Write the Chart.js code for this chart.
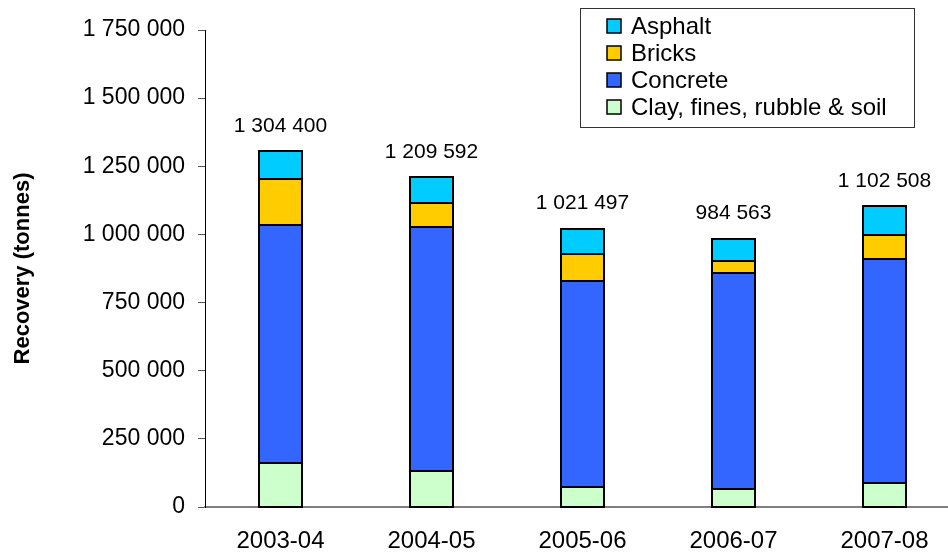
<!DOCTYPE html>
<html>
<head>
<meta charset="utf-8">
<script src="https://cdn.jsdelivr.net/npm/chart.js@4/dist/chart.umd.min.js"></script>
<style>
  html, body { margin: 0; padding: 0; background: #fff; overflow: hidden; }
  #wrap { width: 948px; height: 553px; overflow: hidden; }
</style>
</head>
<body>
<div id="wrap"><canvas id="chart" width="962" height="553"></canvas></div>
<script>
// datos del grafico
const years = ['2003-04', '2004-05', '2005-06', '2006-07', '2007-08'];
const clay = [163000, 132000, 75000, 66000, 89000];
const concrete = [872000, 894000, 754000, 794000, 822000];
const bricks = [168000, 89000, 101000, 43000, 86000];
const asphalt = [101400, 94592, 91497, 81563, 105508];
const totals = [1304400, 1209592, 1021497, 984563, 1102508];
const yTicks = [0, 250000, 500000, 750000, 1000000, 1250000, 1500000, 1750000];

const txtFont = 'Liberation Sans';

function fmt(n) {
    return n.toString().replace(/\B(?=(\d{3})+(?!\d))/g, ' ');
}

// contorno negro de cada segmento
const outlines = {
    id: 'outlines',
    afterDatasetsDraw(chart) {
        const ctx = chart.ctx;
        ctx.save();
        ctx.strokeStyle = '#000';
        ctx.lineWidth = 2;
        chart.data.datasets.forEach((d, di) => {
            chart.getDatasetMeta(di).data.forEach(bar => {
                const p = bar.getProps(['x', 'y', 'base', 'width'], true);
                const l = Math.round(p.x - p.width / 2);
                const r = Math.round(p.x + p.width / 2);
                const t = Math.round(p.y);
                const b = Math.round(p.base);
                ctx.strokeRect(l, t, r - l, b - t);
            });
        });
        ctx.restore();
    }
};

// etiquetas de totales encima de cada barra
const totalsPlugin = {
    id: 'totals',
    afterDatasetsDraw(chart) {
        const ctx = chart.ctx;
        const meta = chart.getDatasetMeta(chart.data.datasets.length - 1);
        ctx.save();
        ctx.fillStyle = '#000';
        ctx.font = '21px "' + txtFont + '"';
        ctx.textAlign = 'center';
        ctx.textBaseline = 'alphabetic';
        meta.data.forEach((bar, i) => {
            ctx.fillText(fmt(totals[i]), bar.x, bar.y - 19.5);
        });
        ctx.restore();
    }
};

// leyenda con recuadro
const legendBox = {
    id: 'legendBox',
    afterDraw(chart) {
        const ctx = chart.ctx;
        const ds = chart.data.datasets.slice().reverse();
        ctx.save();
        ctx.fillStyle = '#fff';
        ctx.fillRect(580.5, 8.5, 334, 119);
        ctx.strokeStyle = '#333';
        ctx.lineWidth = 1;
        ctx.strokeRect(580.5, 8.5, 334, 119);
        ctx.font = '24px "' + txtFont + '"';
        ctx.textBaseline = 'alphabetic';
        ds.forEach((d, i) => {
            const y = Math.round(26 + i * 26.9);
            ctx.fillStyle = d.backgroundColor;
            ctx.fillRect(607, y - 7, 14, 14);
            ctx.strokeStyle = '#000';
            ctx.lineWidth = 1.5;
            ctx.strokeRect(607, y - 7, 14, 14);
            ctx.fillStyle = '#000';
            ctx.fillText(d.label, 631, y + 8);
        });
        ctx.restore();
    }
};

const barStyle = {
    borderWidth: 0,
    barPercentage: 0.28,
    categoryPercentage: 1.0
};

const ctx = document.getElementById('chart').getContext('2d');
const chart = new Chart(ctx, {
    type: 'bar',
    data: {
        labels: years,
        datasets: [
            Object.assign({ label: 'Clay, fines, rubble & soil', data: clay, backgroundColor: '#CCFFCC' }, barStyle),
            Object.assign({ label: 'Concrete', data: concrete, backgroundColor: '#3366FF' }, barStyle),
            Object.assign({ label: 'Bricks', data: bricks, backgroundColor: '#FFCC00' }, barStyle),
            Object.assign({ label: 'Asphalt', data: asphalt, backgroundColor: '#00CCFF' }, barStyle)
        ]
    },
    options: {
        responsive: false,
        animation: false,
        layout: { padding: { top: 30, right: 2, left: 0, bottom: 0 } },
        plugins: {
            legend: { display: false },
            tooltip: { enabled: false }
        },
        scales: {
            x: {
                stacked: true,
                grid: { display: false, drawTicks: false },
                border: { display: true, color: '#808080', width: 2 },
                ticks: { color: '#000', font: { family: txtFont, size: 24 }, padding: 20 },
                afterFit(s) { s.height = 46; }
            },
            y: {
                stacked: true,
                min: 0,
                max: 1750000,
                afterBuildTicks(s) { s.ticks = yTicks.map(v => ({ value: v })); },
                ticks: {
                    color: '#000',
                    font: { family: txtFont, size: 23 },
                    padding: 13,
                    callback: v => fmt(v)
                },
                grid: { drawOnChartArea: false, tickLength: 7, color: '#555' },
                border: { display: true, color: '#000', width: 1 },
                title: {
                    display: true,
                    text: 'Recovery (tonnes)',
                    color: '#000',
                    font: { family: txtFont, weight: 'bold', size: 22 },
                    padding: { top: 10, bottom: 0 }
                },
                afterFit(s) { s.width = 205; }
            }
        }
    },
    plugins: [outlines, totalsPlugin, legendBox]
});
</script>
</body>
</html>
